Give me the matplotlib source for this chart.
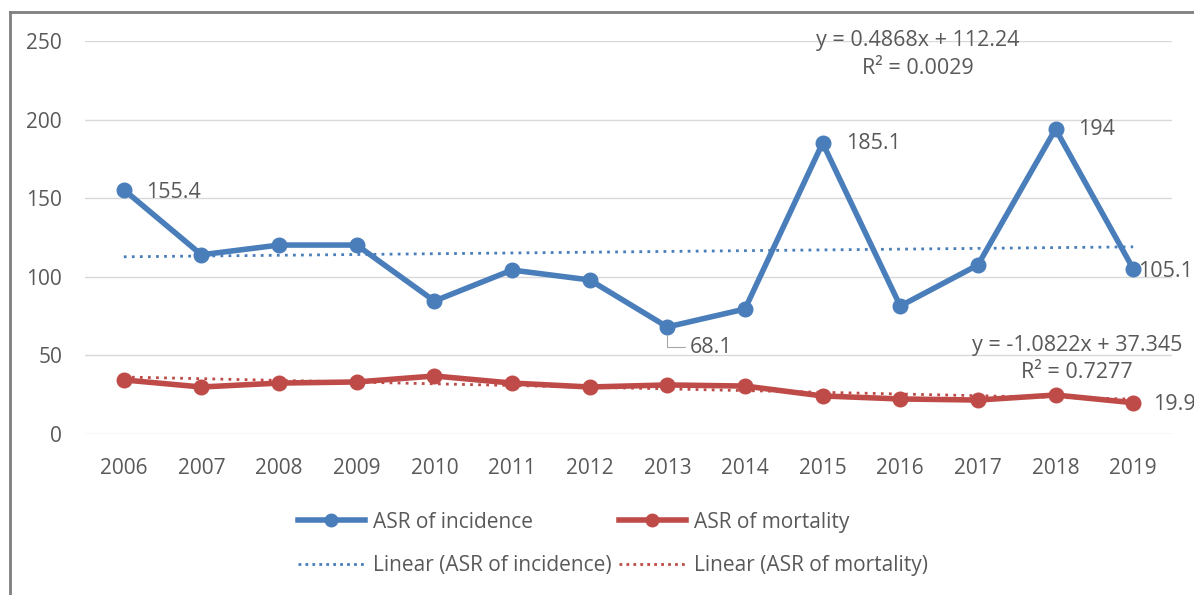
import numpy as np
import matplotlib.pyplot as plt
from matplotlib.lines import Line2D

plt.rcParams['font.family'] = ['Open Sans', 'DejaVu Sans']

years = ['2006', '2007', '2008', '2009', '2010', '2011', '2012',
         '2013', '2014', '2015', '2016', '2017', '2018', '2019']
incidence = [155.4, 114.0, 120.2, 120.2, 84.6, 104.3, 98.0,
             68.1, 79.5, 185.1, 81.4, 107.5, 194.0, 105.1]
mortality = [34.4, 29.9, 32.4, 33.1, 36.9, 32.4, 29.9,
             31.2, 30.5, 24.2, 22.3, 21.6, 24.8, 19.9]
# trendline coefficients as printed on the chart (x = 1..n)
inc_fit = (0.4868, 112.24)
mort_fit = (-1.0822, 37.345)

blue = '#4a7ebb'
red = '#be4b48'
txt = '#595959'

fig = plt.figure(figsize=(11.94, 5.95), dpi=100)
ax = fig.add_axes([85 / 1194, 1 - 434 / 595, (1172 - 85) / 1194, (434 - 41) / 595])

x = np.arange(len(years))
xn = x + 1
dots = (0, (1, 1.9))
ax.plot(x, inc_fit[0] * xn + inc_fit[1], ls=dots, color=blue, lw=2, zorder=2)
ax.plot(x, mort_fit[0] * xn + mort_fit[1], ls=dots, color=red, lw=2, zorder=2)
ax.plot(x, incidence, color=blue, lw=4, marker='o', ms=10.5, zorder=3)
ax.plot(x, mortality, color=red, lw=4, marker='o', ms=10.5, zorder=3)

ax.set_xlim(-0.5, len(years) - 0.5)
ax.set_ylim(0, 250)
ax.set_yticks([0, 50, 100, 150, 200, 250])
ax.set_xticks(x)
ax.set_xticklabels(years)
ax.grid(axis='y', color='#d9d9d9', lw=1)
ax.set_axisbelow(True)
for s in ax.spines.values():
    s.set_visible(False)
ax.tick_params(length=0, labelsize=15, colors=txt)
ax.tick_params(axis='y', pad=16.5)
ax.tick_params(axis='x', pad=17)

# data labels
fs = 15.5
def label(text, xy, dx, dy, **kw):
    ax.annotate(text, xy, xytext=(dx, dy), textcoords='offset points', fontsize=fs,
                color=txt, va='center', annotation_clip=False, **kw)

label('155.4', (0, incidence[0]), 16, -2)
label('185.1', (9, incidence[9]), 17, 0)
label('194', (12, incidence[12]), 16.5, 0)
label('105.1', (13, incidence[13]), 3.5, -2)
label('19.9', (13, mortality[13]), 14, -1)
label('68.1', (7, incidence[7]), 16.5, -14.5,
      arrowprops=dict(arrowstyle='-', color='#a6a6a6', lw=0.8,
                      connectionstyle='angle,angleA=0,angleB=90,rad=0',
                      shrinkA=2, shrinkB=6))

# trendline equations
eq = 15.5
ax.text(10.23, 250.6, 'y = 0.4868x + 112.24', fontsize=eq, color=txt, ha='center', va='center',
        clip_on=False)
ax.text(10.23, 232.8, 'R² = 0.0029', fontsize=eq, color=txt, ha='center', va='center')
ax.text(12.28, 56.6, 'y = -1.0822x + 37.345', fontsize=eq, color=txt, ha='center', va='center',
        clip_on=False)
ax.text(12.28, 39.4, 'R² = 0.7277', fontsize=eq, color=txt, ha='center', va='center')

handles = [
    Line2D([], [], color=blue, lw=4, marker='o', ms=9),
    Line2D([], [], color=blue, lw=2, ls=(0, (1, 1.5))),
    Line2D([], [], color=red, lw=4, marker='o', ms=9),
    Line2D([], [], color=red, lw=2, ls=(0, (1, 1.5))),
]
labels = ['ASR of incidence', 'Linear (ASR of incidence)',
          'ASR of mortality', 'Linear (ASR of mortality)']
fig.legend(handles, labels, loc='center', bbox_to_anchor=(613 / 1194, 1 - 544 / 595), ncol=2,
           frameon=False, fontsize=15, labelcolor=txt, handlelength=3.2,
           handletextpad=0.4, columnspacing=0.35, labelspacing=1.1)

# chart frame (top and left edges visible)
fig.add_artist(Line2D([10 / 1194, 10 / 1194], [0, 1 - 12 / 595], transform=fig.transFigure,
                      color='#7f7f7f', lw=2))
fig.add_artist(Line2D([10 / 1194, 1], [1 - 12 / 595, 1 - 12 / 595], transform=fig.transFigure,
                      color='#7f7f7f', lw=2))

fig.savefig('out.png', dpi=100)
